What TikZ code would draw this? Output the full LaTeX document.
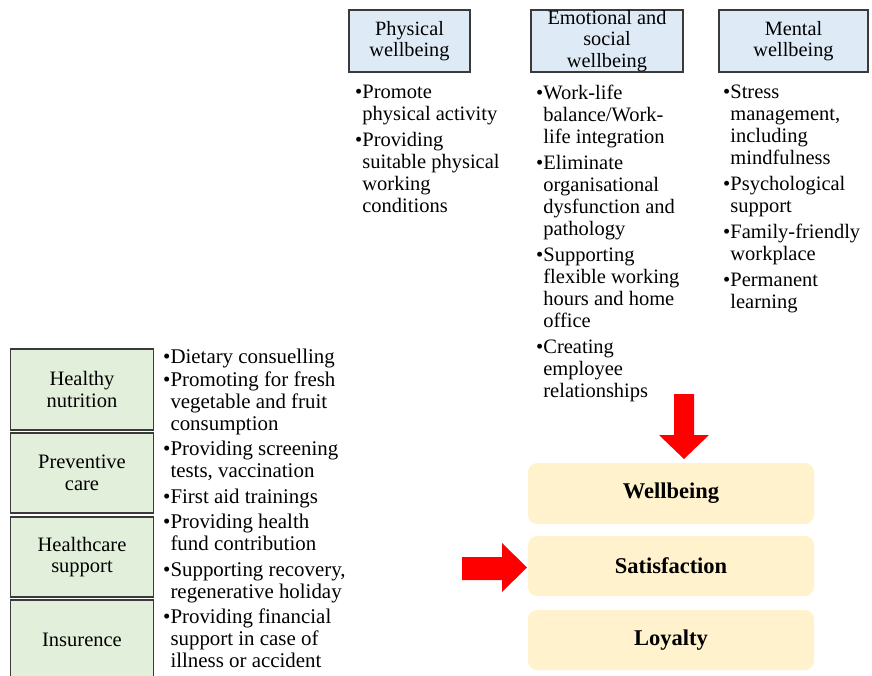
\documentclass[tikz,border=0pt]{standalone}
\usepackage{fontspec}
\setmainfont{Liberation Serif}
\definecolor{topfill}{HTML}{DEEBF7}
\definecolor{greenfill}{HTML}{E2EFDA}
\definecolor{yelfill}{HTML}{FFF2CC}
\definecolor{boxline}{HTML}{3A3A3A}
\definecolor{arrowred}{HTML}{FF0000}
\newcommand\bul{\textbullet}
\newcommand\bulind{\phantom{\textbullet}}
\begin{document}
\begin{tikzpicture}[x=1pt,y=-1pt,
  topbox/.style={draw=boxline, line width=1.3pt, fill=topfill, minimum width=#1,
    minimum height=62pt, inner sep=0pt, align=center, font=\fontsize{20.3}{21.5}\selectfont},
  leftbox/.style={draw=boxline, line width=1.6pt, fill=greenfill, minimum width=143pt,
    minimum height=#1, inner sep=0pt, align=center, font=\fontsize{20.5}{21.5}\selectfont},
  resbox/.style={fill=yelfill, rounded corners=9pt, minimum width=286pt, minimum height=#1,
    inner sep=0pt, font=\fontsize{22.5}{24}\selectfont\bfseries},
  listtext/.style={anchor=north west, inner sep=0pt, align=left, font=\fontsize{20.5}{22}\selectfont},
  leftlisttext/.style={anchor=north west, inner sep=0pt, align=left, font=\fontsize{20.9}{22}\selectfont},
  blockarrow/.style={fill=arrowred}]
\useasboundingbox (0,0) rectangle (872,675);
\clip (0,0) rectangle (872,675);
% top category boxes
\node[topbox=121pt] (phys) at (409.5,41) {Physical\\wellbeing};
\node[topbox=152pt] (emo) at (607,41) {Emotional and\\social\\wellbeing};
\node[topbox=149pt] (ment) at (793.5,41) {Mental\\wellbeing};
% top lists
\node[listtext] (physlist) at (355,85) {\bul Promote\\\bulind physical activity\\[4pt]\bul Providing\\\bulind suitable physical\\\bulind working\\\bulind conditions};
\node[listtext] (emolist) at (536,85) {\bul Work-life\\\bulind balance/Work-\\\bulind life integration\\[4pt]\bul Eliminate\\\bulind organisational\\\bulind dysfunction and\\\bulind pathology\\[4pt]\bul Supporting\\\bulind flexible working\\\bulind hours and home\\\bulind office\\[4pt]\bul Creating\\\bulind employee\\\bulind relationships};
\node[listtext] (mentlist) at (723,85) {\bul Stress\\\bulind management,\\\bulind including\\\bulind mindfulness\\[4pt]\bul Psychological\\\bulind support\\[4pt]\bul Family-friendly\\\bulind workplace\\[4pt]\bul Permanent\\\bulind learning};
% left boxes
\node[leftbox=81pt] (nutr) at (82,389.5) {Healthy\\nutrition};
\node[leftbox=80pt] (prev) at (82,473) {Preventive\\care};
\node[leftbox=80pt] (hcare) at (82,557) {Healthcare\\support};
\node[leftbox=80pt] (insur) at (82,640) {Insurence};
% left list
\node[leftlisttext] (leftlist) at (163,348.5) {\bul Dietary consuelling\\[1pt]\bul Promoting for fresh\\\bulind vegetable and fruit\\\bulind consumption\\[3.5pt]\bul Providing screening\\\bulind tests, vaccination\\[3.5pt]\bul First aid trainings\\[3.5pt]\bul Providing health\\\bulind fund contribution\\[3.5pt]\bul Supporting recovery,\\\bulind regenerative holiday\\[3.5pt]\bul Providing financial\\\bulind support in case of\\\bulind illness or accident};
% result boxes
\node[resbox=61pt] (wb) at (671,493.5) {Wellbeing};
\node[resbox=60pt] (sat) at (671,566) {Satisfaction};
\node[resbox=60pt] (loy) at (671,640) {Loyalty};
% block arrows
\fill[blockarrow] (674,394) -- (694,394) -- (694,435) -- (709,435) -- (684,459)
  -- (659,435) -- (674,435) -- cycle;
\fill[blockarrow] (462,557) -- (502,557) -- (502,543) -- (527,567.5) -- (502,592)
  -- (502,580) -- (462,580) -- cycle;
\end{tikzpicture}
\end{document}
